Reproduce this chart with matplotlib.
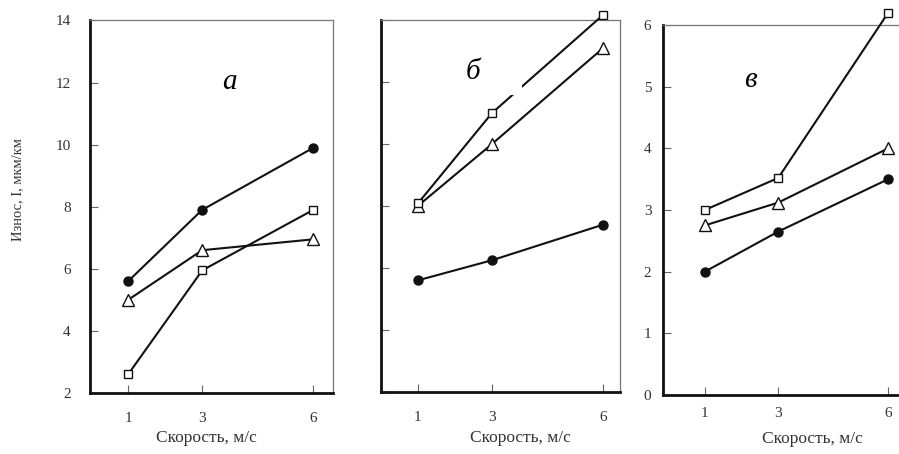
import matplotlib.pyplot as plt
from matplotlib.patches import Rectangle

plt.rcParams["font.family"] = ["Liberation Serif", "DejaVu Serif"]

# Wear vs sliding speed, three materials (a, b, v)
speed = [1, 3, 6]
speed_ticks = [1, 3, 6]

a_circle = [5.6, 7.9, 9.9]
a_triangle = [5.0, 6.6, 6.95]
a_square = [2.6, 5.95, 7.9]

b_circle = [5.6, 6.25, 7.4]
b_triangle = [8.0, 10.0, 13.1]
b_square = [8.08, 11.0, 14.17]

c_circle = [2.0, 2.65, 3.5]
c_triangle = [2.75, 3.12, 4.0]
c_square = [3.0, 3.52, 6.2]

ab_yticks = [2, 4, 6, 8, 10, 12, 14]
c_yticks = [0, 1, 2, 3, 4, 5, 6]

x_label = "Скорость, м/с"
y_label = "Износ, I, мкм/км"
panel_letters = ["а", "б", "в"]

INK = "#111111"
TICK_COLOR = "#333333"


def draw_series(ax, circle, triangle, square):
    common = dict(color=INK, lw=1.5, clip_on=False, zorder=3)
    ax.plot(speed, circle, marker="o", ms=6.5, mfc=INK, mec=INK, **common)
    ax.plot(speed, triangle, marker="^", ms=8, mfc="white", mec=INK,
            mew=1.0, **common)
    ax.plot(speed, square, marker="s", ms=5.5, mfc="white", mec=INK,
            mew=1.0, **common)


def style_axes(ax, xlim, ylim, yticks, show_labels, label_pad):
    ax.set_xlim(xlim)
    ax.set_ylim(ylim)
    ax.set_xticks(speed_ticks)
    ax.set_yticks(yticks)
    if not show_labels:
        ax.set_yticklabels([])
    for side in ["left", "bottom"]:
        ax.spines[side].set_linewidth(2.0)
        ax.spines[side].set_color(INK)
    for side in ["top", "right"]:
        ax.spines[side].set_linewidth(0.9)
        ax.spines[side].set_color("#777777")
    ax.tick_params(axis="both", direction="in", length=6, width=0.8,
                   color="#666666", labelcolor=TICK_COLOR, labelsize=11)
    ax.tick_params(axis="y", pad=label_pad)
    ax.tick_params(axis="x", pad=label_pad)


fig = plt.figure(figsize=(8.99, 4.54), dpi=100)

ax_a = fig.add_axes([0.1001, 0.1344, 0.2703, 0.8205])
ax_b = fig.add_axes([0.4235, 0.1366, 0.2662, 0.8194])
ax_c = fig.add_axes([0.7378, 0.1300, 0.2688, 0.8150])

draw_series(ax_a, a_circle, a_triangle, a_square)
draw_series(ax_b, b_circle, b_triangle, b_square)
draw_series(ax_c, c_circle, c_triangle, c_square)

style_axes(ax_a, (-0.03, 6.53), (2, 14), ab_yticks, True, 14)
style_axes(ax_b, (0, 6.45), (2, 14), ab_yticks, False, 14)
style_axes(ax_c, (-0.136, 6.455), (0, 6), c_yticks, True, 8.5)
ax_c.tick_params(axis="x", pad=9)
ax_c.spines["right"].set_visible(False)

ax_a.set_xlabel(x_label, fontsize=12.5, color=TICK_COLOR)
ax_b.set_xlabel(x_label, fontsize=12.5, color=TICK_COLOR)
ax_c.set_xlabel(x_label, fontsize=12.5, color=TICK_COLOR)
ax_a.xaxis.set_label_coords(0.48, -0.100)
ax_b.xaxis.set_label_coords(0.582, -0.103)
ax_c.xaxis.set_label_coords(0.619, -0.098)

fig.text(17.5 / 899, 1 - 190 / 454, y_label, rotation=90, ha="center",
         va="center", fontsize=10.5, color=TICK_COLOR)

# white patch behind the "б" label, as in the scanned original
ax_b.add_patch(Rectangle((0.281, 0.798), 0.309, 0.143, transform=ax_b.transAxes,
                         facecolor="white", edgecolor="none", zorder=4))

letter_pos = [(ax_a, 0.572, 0.836), (ax_b, 0.384, 0.861), (ax_c, 0.359, 0.851)]
for (ax, lx, ly), letter in zip(letter_pos, panel_letters):
    ax.text(lx, ly, letter, transform=ax.transAxes, ha="center", va="center",
            fontsize=21, style="italic", color="black", zorder=5)

fig.savefig("out.png", dpi=100)
